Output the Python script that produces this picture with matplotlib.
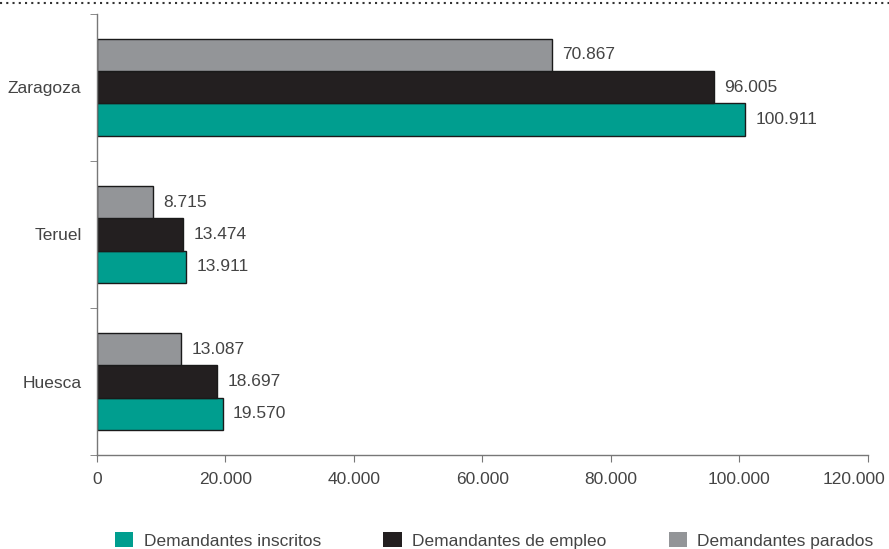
import matplotlib.pyplot as plt
import numpy as np
from matplotlib.lines import Line2D
from matplotlib.transforms import ScaledTranslation

plt.rcParams["font.family"] = ["Liberation Sans", "DejaVu Sans"]

# Data
provincias = ["Huesca", "Teruel", "Zaragoza"]
inscritos = [19570, 13911, 100911]
empleo = [18697, 13474, 96005]
parados = [13087, 8715, 70867]
series_names = ["Demandantes inscritos", "Demandantes de empleo", "Demandantes parados"]
xticks = [0, 20000, 40000, 60000, 80000, 100000, 120000]

COLORS = ["#009e8f", "#231f20", "#939598"]
TEXT = "#444444"
FS = 12.5


def fmt(v):
    return f"{v:,}".replace(",", ".")


fig = plt.figure(figsize=(8.89, 5.49), dpi=100)
ax = fig.add_axes([0.109, 0.171, 0.867, 0.804])

y = np.arange(len(provincias))
h = 0.22
offsets = [-h, 0, h]
all_series = [inscritos, empleo, parados]

for vals, off, col, name in zip(all_series, offsets, COLORS, series_names):
    bars = ax.barh(y + off, vals, height=h, color=col, edgecolor="#1a1a1a",
                   linewidth=1.0, label=name)
    for b, v in zip(bars, vals):
        ax.annotate(fmt(v), (v, b.get_y() + b.get_height() / 2),
                    textcoords="offset points", xytext=(7.5, 0),
                    va="center", ha="left", fontsize=FS, color=TEXT)

ax.set_xlim(0, 120000)
ax.set_ylim(-0.5, 2.5)
ax.set_xticks(xticks)
ax.set_xticklabels([fmt(t) for t in xticks], fontsize=FS, color=TEXT)
ax.set_yticks(y)
ax.set_yticklabels(provincias, fontsize=FS, color=TEXT)
ax.tick_params(axis="y", length=0, pad=11)
ax.set_yticks([-0.5, 0.5, 1.5, 2.5], minor=True)
ax.tick_params(axis="y", which="minor", length=5, color="#777777", direction="out")
ax.tick_params(axis="x", length=5, color="#777777", direction="out", pad=7)

# last tick label nudged left so it stays inside the figure
last = ax.get_xticklabels()[-1]
last.set_transform(last.get_transform() + ScaledTranslation(-14 / 100, 0, fig.dpi_scale_trans))

for s in ["top", "right"]:
    ax.spines[s].set_visible(False)
for s in ["left", "bottom"]:
    ax.spines[s].set_color("#777777")
    ax.spines[s].set_linewidth(1.0)

# dotted rule at the top
fig.add_artist(Line2D([0.0, 1.0], [0.994, 0.994], transform=fig.transFigure,
                      color="#333333", linestyle=(0, (1, 2)), linewidth=1.5))

leg = fig.legend(loc="lower center", bbox_to_anchor=(0.556, -0.028), ncol=3,
                 frameon=False, fontsize=FS, handlelength=1.05, handleheight=0.95,
                 columnspacing=3.6, handletextpad=0.6)
for t in leg.get_texts():
    t.set_color(TEXT)
for p in leg.get_patches():
    p.set_edgecolor("none")

fig.savefig("out.png", dpi=100)
